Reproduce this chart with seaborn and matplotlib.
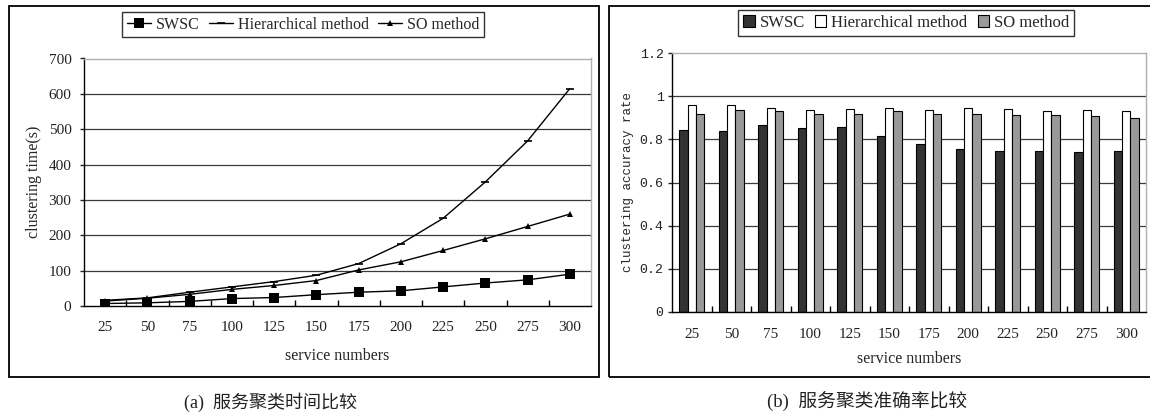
import numpy as np
import pandas as pd
import matplotlib
matplotlib.use("Agg")
import matplotlib.pyplot as plt
from matplotlib.patches import Rectangle, Patch
from matplotlib.lines import Line2D
from matplotlib.ticker import FixedLocator
import seaborn as sns

# ---------------- data ----------------
service_numbers = [25, 50, 75, 100, 125, 150, 175, 200, 225, 250, 275, 300]
methods = ["SWSC", "Hierarchical method", "SO method"]

time_swsc = [7, 9, 13, 21, 24, 32, 39, 43, 54, 65, 74, 90]
time_hier = [16, 23, 39, 54, 69, 87, 120, 176, 248, 351, 467, 615]
time_so = [14, 22, 33, 47, 58, 72, 102, 125, 157, 190, 225, 260]

acc_swsc = [0.842, 0.840, 0.869, 0.852, 0.860, 0.818, 0.777, 0.754, 0.745, 0.745, 0.740, 0.745]
acc_hier = [0.960, 0.960, 0.946, 0.938, 0.943, 0.946, 0.938, 0.946, 0.940, 0.934, 0.938, 0.934]
acc_so = [0.920, 0.938, 0.934, 0.920, 0.920, 0.934, 0.920, 0.920, 0.914, 0.914, 0.910, 0.900]

time_yticks = [0, 100, 200, 300, 400, 500, 600, 700]
acc_yticks = [0, 0.2, 0.4, 0.6, 0.8, 1.0, 1.2]
acc_yticklabels = ["0", "0.2", "0.4", "0.6", "0.8", "1", "1.2"]

caption_a = "(a)  服务聚类时间比较"
caption_b = "(b)  服务聚类准确率比较"

# ---------------- style ----------------
sns.set_theme(style="white")
plt.rcParams["font.family"] = ["Liberation Serif", "Noto Sans CJK SC", "DejaVu Sans"]
plt.rcParams["axes.linewidth"] = 1.0

W, H = 1150, 412
fig = plt.figure(figsize=(W / 100, H / 100), dpi=100)
fig.patch.set_facecolor("white")

# panel frames
fig.add_artist(Rectangle((9 / W, 1 - 377 / H), 590 / W, 371 / H, transform=fig.transFigure,
                         fill=False, edgecolor="black", lw=1.3))
fig.add_artist(Rectangle((609 / W, 1 - 377 / H), 560 / W, 371 / H, transform=fig.transFigure,
                         fill=False, edgecolor="black", lw=1.3, clip_on=False))

# ---------------- left: clustering time ----------------
df_time = pd.DataFrame({
    "service numbers": service_numbers * 3,
    "time": time_swsc + time_hier + time_so,
    "method": [methods[0]] * 12 + [methods[1]] * 12 + [methods[2]] * 12,
})

ax1 = fig.add_axes([84 / W, 1 - 306 / H, (591 - 84) / W, (306 - 58.5) / H])
ax1.set_axisbelow(True)
for yv in time_yticks[1:-1]:
    ax1.axhline(yv, color="#3a3a3a", lw=0.9, zorder=0)
markers = {methods[0]: "s", methods[1]: "_", methods[2]: "^"}
sizes = {methods[0]: 7, methods[1]: 6, methods[2]: 5}
for m in methods:
    sub = df_time[df_time["method"] == m]
    sns.lineplot(data=sub, x="service numbers", y="time", ax=ax1, color="black",
                 lw=1.0, marker=markers[m], markersize=sizes[m], markeredgewidth=1.2 if m == methods[1] else 0,
                 markerfacecolor="black", markeredgecolor="black", legend=False)
ax1.set_xlim(12.5, 312.5)
ax1.set_ylim(0, 700)
ax1.set_xticks(service_numbers)
ax1.xaxis.set_minor_locator(FixedLocator([37.5 + 25 * i for i in range(11)]))
ax1.set_yticks(time_yticks)
ax1.tick_params(axis="x", which="major", length=0, pad=11, labelsize=11)
ax1.tick_params(axis="x", which="minor", direction="in", length=4, width=1, color="black", bottom=True)
ax1.tick_params(axis="y", length=3, width=1, direction="out", left=True, pad=6, labelsize=11)
for lab in ax1.get_xticklabels() + ax1.get_yticklabels():
    lab.set_color("#222222")
ax1.spines["top"].set_color("#b0b0b0")
ax1.spines["right"].set_color("#b0b0b0")
ax1.spines["left"].set_color("black")
ax1.spines["bottom"].set_color("black")
ax1.set_xlabel("service numbers", fontsize=11.5, labelpad=10)
ax1.set_ylabel("clustering time(s)", fontsize=11.5)
ax1.yaxis.set_label_coords(-0.083, 0.5)

h1 = [Line2D([], [], color="black", lw=1, marker=markers[m], markersize=sizes[m],
             markeredgewidth=1.2 if m == methods[1] else 0) for m in methods]
leg1 = ax1.legend(h1, methods, loc="center", bbox_to_anchor=(0.432, 1.137),
                  ncol=3, frameon=True, fancybox=False, edgecolor="black", fontsize=11.5,
                  handlelength=1.5, handletextpad=0.3, columnspacing=0.6, borderpad=0.3,
                  borderaxespad=0)
leg1.get_frame().set_linewidth(1.0)

# ---------------- right: accuracy ----------------
df_acc = pd.DataFrame({
    "service numbers": [str(s) for s in service_numbers] * 3,
    "accuracy": acc_swsc + acc_hier + acc_so,
    "method": [methods[0]] * 12 + [methods[1]] * 12 + [methods[2]] * 12,
})
bar_colors = ["#333333", "#ffffff", "#999999"]

ax2 = fig.add_axes([672 / W, 1 - 311.7 / H, (1146 - 672) / W, (311.7 - 53.3) / H])
ax2.set_axisbelow(True)
for yv in acc_yticks[1:-1]:
    ax2.axhline(yv, color="#3a3a3a", lw=0.9, zorder=0)
sns.barplot(data=df_acc, x="service numbers", y="accuracy", hue="method", ax=ax2,
            palette=bar_colors, width=0.63, gap=0, edgecolor="black", linewidth=0.8,
            saturation=1, legend=False, zorder=2)
ax2.set_xlim(-0.5, 11.5)
ax2.set_ylim(0, 1.2)
ax2.set_yticks(acc_yticks)
ax2.set_yticklabels(acc_yticklabels, family=["Liberation Mono", "DejaVu Sans Mono"], fontsize=9.5)
ax2.xaxis.set_minor_locator(FixedLocator([i + 0.5 for i in range(11)]))
ax2.tick_params(axis="x", which="major", length=0, pad=12, labelsize=11)
ax2.tick_params(axis="x", which="minor", direction="in", length=4, width=1, color="black", bottom=True)
ax2.tick_params(axis="y", length=3, width=1, direction="out", left=True, pad=3)
for lab in ax2.get_xticklabels() + ax2.get_yticklabels():
    lab.set_color("#222222")
ax2.spines["top"].set_color("#b0b0b0")
ax2.spines["right"].set_color("#b0b0b0")
ax2.spines["left"].set_color("black")
ax2.spines["bottom"].set_color("black")
ax2.set_xlabel("service numbers", fontsize=11.5, labelpad=7)
ax2.set_ylabel("clustering accuracy rate", fontsize=9, family=["Liberation Mono", "DejaVu Sans Mono"])
ax2.yaxis.set_label_coords(-0.08, 0.5)

h2 = [Patch(facecolor=c, edgecolor="black", lw=0.8) for c in bar_colors]
leg2 = ax2.legend(h2, methods, loc="center", bbox_to_anchor=(0.494, 1.119),
                  ncol=3, frameon=True, fancybox=False, edgecolor="black", fontsize=12,
                  handlelength=0.7, handleheight=0.7, handletextpad=0.3, columnspacing=0.6,
                  borderpad=0.3, borderaxespad=0)
leg2.get_frame().set_linewidth(1.0)

# captions
fig.text(271 / W, 1 - 402 / H, caption_a, ha="center", va="center", fontsize=13,
         family=["Liberation Serif", "Noto Sans CJK SC"], color="#222222")
fig.text(867 / W, 1 - 402 / H, caption_b, ha="center", va="center", fontsize=13.5,
         family=["Liberation Serif", "Noto Sans CJK SC"], color="#222222")

fig.savefig("out.png", dpi=100, facecolor="white")
